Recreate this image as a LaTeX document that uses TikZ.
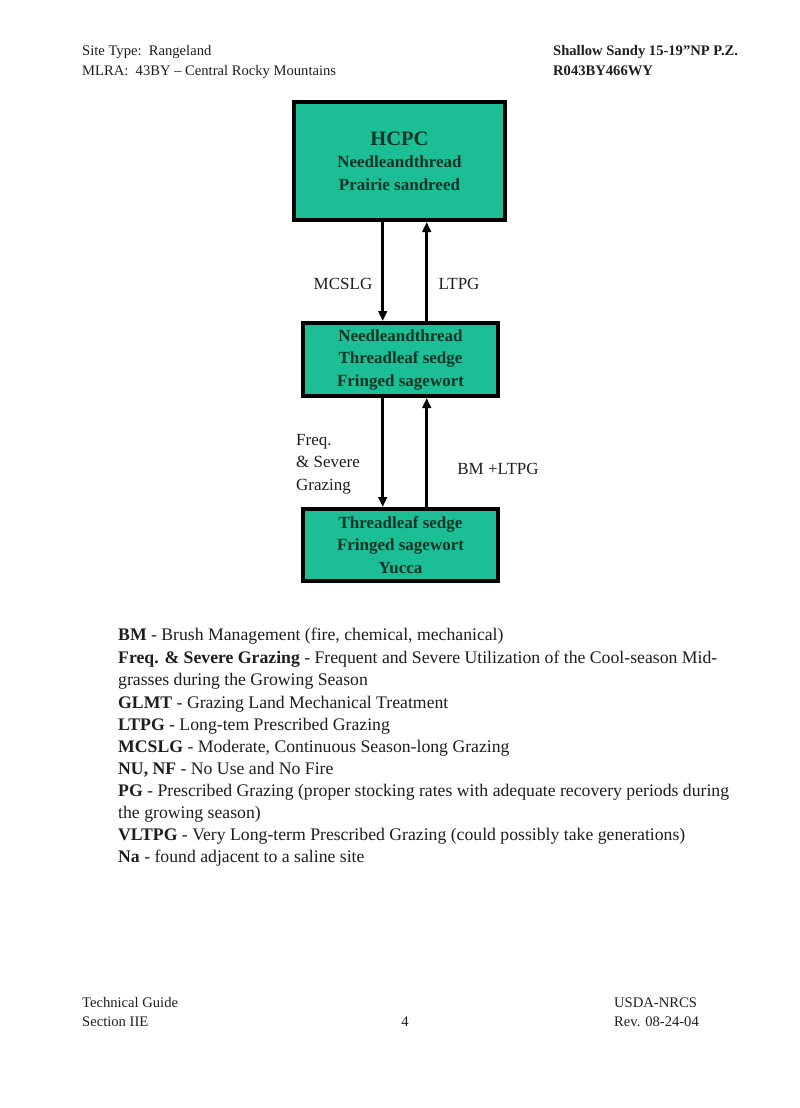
\documentclass[tikz,border=0pt]{standalone}
\usepackage{fontspec}
\setmainfont{Liberation Serif}
\usetikzlibrary{arrows.meta}
\definecolor{boxfill}{RGB}{28,190,150}
\definecolor{boxtext}{RGB}{12,52,38}
\definecolor{ink}{RGB}{30,30,30}
\begin{document}
\begin{tikzpicture}[x=1pt,y=-1pt,
  statebox/.style={draw=black, line width=4pt, fill=boxfill, text=boxtext,
    font=\fontsize{17}{22.5}\selectfont\bfseries, align=center, inner sep=0pt},
  trans/.style={line width=3pt, -{Triangle[length=10pt,width=8.5pt]}},
  lbl/.style={font=\fontsize{17}{22.5}\selectfont, text=ink, inner sep=0pt},
  hdr/.style={font=\fontsize{14.6}{16}\selectfont, text=ink, anchor=base west, inner sep=0pt},
  leg/.style={font=\fontsize{17.7}{20}\selectfont, text=ink, anchor=base west, inner sep=0pt}]
\useasboundingbox[fill=white] (0,0) rectangle (800,1108);

% header
\node[hdr] (h1) at (82,56) {Site Type:\ \ Rangeland};
\node[hdr] (h2) at (82,75) {MLRA:\ \ 43BY -- Central Rocky Mountains};
\node[hdr, font=\fontsize{14.6}{16}\selectfont\bfseries] (h3) at (553,56) {Shallow Sandy 15-19"NP P.Z.};
\node[hdr, font=\fontsize{14.6}{16}\selectfont\bfseries] (h4) at (553,75) {R043BY466WY};

% state boxes
\node[statebox, minimum width=211pt, minimum height=118pt] (b1) at (399.5,161)
  {{\fontsize{20.5}{24}\selectfont HCPC}\\Needleandthread\\Prairie sandreed};
\node[statebox, minimum width=195pt, minimum height=73pt] (b2) at (400.5,359.5)
  {Needleandthread\\Threadleaf sedge\\Fringed sagewort};
\node[statebox, minimum width=195pt, minimum height=72pt] (b3) at (400.5,545)
  {Threadleaf sedge\\Fringed sagewort\\Yucca};

% transitions
\draw[trans] ([xshift=-16.8pt]b1.south) -- ([xshift=-17.8pt]b2.north);
\draw[trans] ([xshift=26.2pt]b2.north) -- ([xshift=27.2pt]b1.south);
\draw[trans] ([xshift=-17.8pt]b2.south) -- ([xshift=-17.8pt]b3.north);
\draw[trans] ([xshift=26.2pt]b3.north) -- ([xshift=26.2pt]b2.south);

% transition labels
\node[lbl] (l1) at (343,284) {MCSLG};
\node[lbl] (l2) at (459,284) {LTPG};
\node[lbl, align=left, anchor=west] (l3) at (296,464) {Freq.\\\&\ Severe\\Grazing};
\node[lbl] (l4) at (498,469) {BM +LTPG};

% legend
\node[leg] (g1) at (118,640) {\textbf{BM} - Brush Management (fire, chemical, mechanical)};
\node[leg] (g2) at (118,663) {\textbf{Freq. \& Severe Grazing} - Frequent and Severe Utilization of the Cool-season Mid-};
\node[leg] (g3) at (118,685) {grasses during the Growing Season};
\node[leg] (g4) at (118,708) {\textbf{GLMT} - Grazing Land Mechanical Treatment};
\node[leg] (g5) at (118,730) {\textbf{LTPG} - Long-tem Prescribed Grazing};
\node[leg] (g6) at (118,752) {\textbf{MCSLG} - Moderate, Continuous Season-long Grazing};
\node[leg] (g7) at (118,774) {\textbf{NU, NF} - No Use and No Fire};
\node[leg] (g8) at (118,796) {\textbf{PG} - Prescribed Grazing (proper stocking rates with adequate recovery periods during};
\node[leg] (g9) at (118,818) {the growing season)};
\node[leg] (g10) at (118,840) {\textbf{VLTPG} - Very Long-term Prescribed Grazing (could possibly take generations)};
\node[leg] (g11) at (118,862) {\textbf{Na} - found adjacent to a saline site};

% footer
\node[hdr] (f1) at (82,1007) {Technical Guide};
\node[hdr] (f2) at (82,1026) {Section IIE};
\node[hdr, anchor=base] (f3) at (405,1026) {4};
\node[hdr] (f4) at (614,1007) {USDA-NRCS};
\node[hdr] (f5) at (614,1026) {Rev. 08-24-04};
\end{tikzpicture}
\end{document}
